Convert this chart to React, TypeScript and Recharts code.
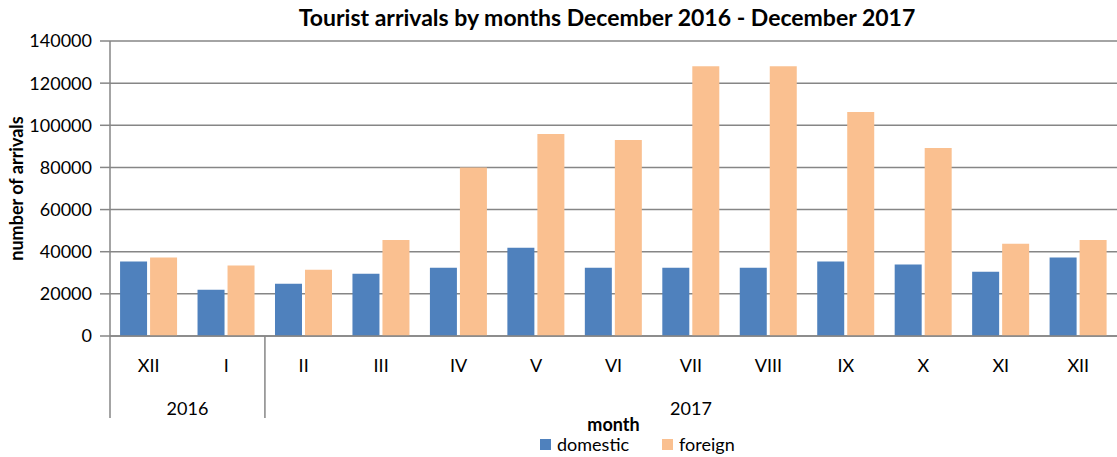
import React from "react";
import {
  Bar,
  BarChart,
  CartesianGrid,
  Legend,
  XAxis,
  YAxis,
} from "recharts";

const months = ["XII", "I", "II", "III", "IV", "V", "VI", "VII", "VIII", "IX", "X", "XI", "XII"];
const years = ["2016", "2016", "2017", "2017", "2017", "2017", "2017", "2017", "2017", "2017", "2017", "2017", "2017"];
const domestic = [35300, 22000, 24800, 29600, 32400, 41900, 32400, 32400, 32400, 35300, 33900, 30500, 37200];
const foreign = [37200, 33400, 31500, 45600, 80000, 95900, 93000, 128000, 128000, 106300, 89200, 43800, 45600];
const yTicks = [0, 20000, 40000, 60000, 80000, 100000, 120000, 140000];

const W = 1117;
const H = 457;
const PLOT_LEFT = 110;
const PLOT_TOP = 41;
const PLOT_BOTTOM = 336;
const STEP = (W - PLOT_LEFT) / months.length;
const FONT = "Lato, 'Open Sans', sans-serif";
const GRID = "#868686";

const data = months.map((m, i) => ({
  month: m,
  year: years[i],
  domestic: domestic[i],
  foreign: foreign[i],
}));

// group consecutive months by year
const groups: { year: string; start: number; end: number }[] = [];
years.forEach((y, i) => {
  const last = groups[groups.length - 1];
  if (last && last.year === y) last.end = i;
  else groups.push({ year: y, start: i, end: i });
});

function MonthTick(props: any) {
  const { x, index, payload } = props;
  const g = groups.find((gr) => gr.start === index);
  return (
    <g>
      <text x={x} y={PLOT_BOTTOM + 36} textAnchor="middle" fontSize={18} fill="#000" fontFamily={FONT}>
        {payload.value}
      </text>
      {g && (
        <>
          <line
            x1={x - STEP / 2}
            x2={x - STEP / 2}
            y1={PLOT_BOTTOM}
            y2={PLOT_BOTTOM + 82}
            stroke={GRID}
            strokeWidth={1.5}
          />
          <text
            x={x + ((g.end - g.start) / 2) * STEP}
            y={PLOT_BOTTOM + 79}
            textAnchor="middle"
            fontSize={18}
            fill="#000"
            fontFamily={FONT}
          >
            {g.year}
          </text>
        </>
      )}
    </g>
  );
}

function LegendBox() {
  const items = [
    { name: "domestic", color: "#4F81BD" },
    { name: "foreign", color: "#FAC090" },
  ];
  return (
    <div style={{ display: "flex", alignItems: "center", fontFamily: FONT, fontSize: 18 }}>
      {items.map((it) => (
        <div key={it.name} style={{ display: "flex", alignItems: "center", marginRight: 33 }}>
          <span style={{ width: 11, height: 11, background: it.color, marginRight: 6, display: "inline-block" }} />
          <span style={{ color: "#000" }}>{it.name}</span>
        </div>
      ))}
    </div>
  );
}

export default function App() {
  return (
    <div style={{ position: "absolute", left: 0, top: 0, width: W, height: H, background: "#fff" }}>
      <div
        style={{
          position: "absolute",
          left: 0,
          top: 3,
          width: 1214,
          textAlign: "center",
          fontFamily: FONT,
          fontWeight: 700,
          fontSize: 23,
        }}
      >
        Tourist arrivals by months December 2016 - December 2017
      </div>
      <BarChart
        width={W}
        height={H}
        data={data}
        margin={{ top: PLOT_TOP, right: 0, left: 10, bottom: 2 }}
        barCategoryGap="13%"
        barGap={3}
      >
        <CartesianGrid vertical={false} stroke={GRID} strokeWidth={1.5} />
        <YAxis
          width={100}
          domain={[0, 140000]}
          ticks={yTicks}
          interval={0}
          tickSize={10}
          tickMargin={8}
          axisLine={{ stroke: GRID, strokeWidth: 1.5 }}
          tickLine={{ stroke: GRID, strokeWidth: 1.5 }}
          tick={{ fill: "#000", fontSize: 18, fontFamily: FONT }}
          label={{
            content: () => (
              <text
                x={23}
                y={(PLOT_TOP + PLOT_BOTTOM) / 2}
                transform={`rotate(-90 23 ${(PLOT_TOP + PLOT_BOTTOM) / 2})`}
                textAnchor="middle"
                fontSize={18}
                fontWeight={700}
                fontFamily={FONT}
                fill="#000"
              >
                number of arrivals
              </text>
            ),
          }}
        />
        <XAxis
          dataKey="month"
          height={H - PLOT_BOTTOM - 2 - 22}
          interval={0}
          tickLine={false}
          axisLine={{ stroke: GRID, strokeWidth: 1.5 }}
          tick={<MonthTick />}
          label={{
            content: (p: any) => (
              <text
                x={p.viewBox.x + p.viewBox.width / 2}
                y={PLOT_BOTTOM + 95}
                textAnchor="middle"
                fontSize={18}
                fontWeight={700}
                fontFamily={FONT}
                fill="#000"
              >
                month
              </text>
            ),
          }}
        />
        <Legend
          verticalAlign="bottom"
          height={22}
          content={<LegendBox />}
          wrapperStyle={{ left: 540, width: 260, bottom: 2 }}
        />
        <Bar dataKey="domestic" fill="#4F81BD" isAnimationActive={false} />
        <Bar dataKey="foreign" fill="#FAC090" isAnimationActive={false} />
      </BarChart>
    </div>
  );
}
